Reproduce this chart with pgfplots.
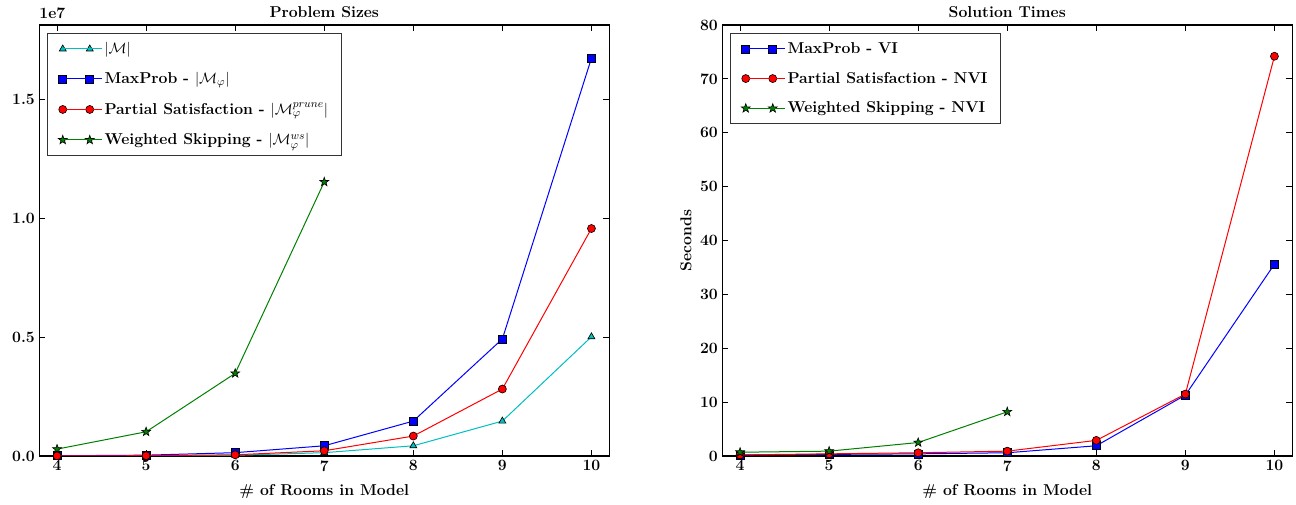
\documentclass[border=0pt]{standalone}
\usepackage{pgfplots}
\pgfplotsset{compat=1.18}
\usepackage{amsmath}
\definecolor{mplcyan}{rgb}{0,0.75,0.75}
\definecolor{mplgreen}{rgb}{0,0.5,0}
\newcommand\f{\fontsize{12.6}{15}\selectfont\bfseries}

\pgfdeclareplotmark{fstar}{%
  \pgfpathmoveto{\pgfpointpolar{90}{\pgfplotmarksize}}%
  \pgfpathlineto{\pgfpointpolar{126}{0.4\pgfplotmarksize}}%
  \pgfpathlineto{\pgfpointpolar{162}{\pgfplotmarksize}}%
  \pgfpathlineto{\pgfpointpolar{198}{0.4\pgfplotmarksize}}%
  \pgfpathlineto{\pgfpointpolar{234}{\pgfplotmarksize}}%
  \pgfpathlineto{\pgfpointpolar{270}{0.4\pgfplotmarksize}}%
  \pgfpathlineto{\pgfpointpolar{306}{\pgfplotmarksize}}%
  \pgfpathlineto{\pgfpointpolar{342}{0.4\pgfplotmarksize}}%
  \pgfpathlineto{\pgfpointpolar{18}{\pgfplotmarksize}}%
  \pgfpathlineto{\pgfpointpolar{54}{0.4\pgfplotmarksize}}%
  \pgfpathclose
  \pgfusepathqfillstroke
}

\pgfplotsset{
  mpl/.style={
    scale only axis,
    width=456pt, height=344.8pt,
    xmin=3.8, xmax=10.2, xtick={4,5,...,10},
    clip mode=individual,
    tick align=inside,
    major tick length=4.8pt,
    axis line style={line width=1pt},
    every tick/.style={black, line width=0.8pt},
    /pgf/number format/assume math mode=true,
    ticklabel style={font=\f},
    label style={font=\f},
    xlabel style={yshift=-4pt},
    title style={font=\f, yshift=-3.5pt},
    xlabel={\# of Rooms in Model},
    legend cell align=left,
    legend style={font=\f, at={(0.014,0.981)}, anchor=north west,
      draw=black!80, line width=0.8pt,
      row sep=9.5pt, inner xsep=8.5pt, inner ysep=5pt},
    legend image code/.code={\draw[##1] plot coordinates {(0pt,0pt) (21.6pt,0pt)};
      \path (0pt,0pt) -- (31pt,0pt);},
  },
  ser/.style={line width=0.8pt, mark size=3.2pt},
}

\begin{document}
\begin{tikzpicture}
\begin{axis}[mpl,
    title={Problem Sizes},
    ymin=0, ymax=18150000,
    scaled y ticks=false,
    ytick={0,5000000,10000000,15000000},
    yticklabels={0.0,0.5,1.0,1.5},
]
\addplot[ser, mplcyan, mark=triangle*, mark options={draw=black, line width=0.5pt, fill=mplcyan}] coordinates {
  (4,3000) (5,10000) (6,30000) (7,140000) (8,430000) (9,1470000) (10,5020000)
};
\addlegendentry{$|\mathcal{M}|$}
\addplot[ser, blue, mark=square*, mark options={draw=black, line width=0.5pt, fill=blue}] coordinates {
  (4,10000) (5,35000) (6,140000) (7,430000) (8,1470000) (9,4930000) (10,16750000)
};
\addlegendentry{MaxProb - $|\mathcal{M}_\varphi|$}
\addplot[ser, red, mark=*, mark options={draw=black, line width=0.5pt, fill=red}] coordinates {
  (4,5000) (5,12000) (6,50000) (7,220000) (8,840000) (9,2820000) (10,9580000)
};
\addlegendentry{Partial Satisfaction - $|\mathcal{M}_\varphi^{prune}|$}
\addplot[ser, mplgreen, mark=fstar, mark size=3.7pt, mark options={draw=black, line width=0.5pt, fill=mplgreen}] coordinates {
  (4,290000) (5,1020000) (6,3480000) (7,11540000)
};
\addlegendentry{Weighted Skipping - $|\mathcal{M}_\varphi^{ws}|$}
\node[font=\f, anchor=south west, inner sep=0pt] at (rel axis cs:0,1) [yshift=4.8pt] {1e7};
\end{axis}

\begin{axis}[mpl, at={(546.4pt,0pt)},
    title={Solution Times},
    ymin=0, ymax=80, ytick={0,10,...,80},
    ylabel={Seconds},
]
\addplot[ser, blue, mark=square*, mark options={draw=black, line width=0.5pt, fill=blue}] coordinates {
  (4,0.2) (5,0.3) (6,0.4) (7,0.6) (8,1.9) (9,11.3) (10,35.6)
};
\addlegendentry{MaxProb - VI}
\addplot[ser, red, mark=*, mark options={draw=black, line width=0.5pt, fill=red}] coordinates {
  (4,0.2) (5,0.4) (6,0.6) (7,0.9) (8,2.9) (9,11.5) (10,74.2)
};
\addlegendentry{Partial Satisfaction - NVI}
\addplot[ser, mplgreen, mark=fstar, mark size=3.7pt, mark options={draw=black, line width=0.5pt, fill=mplgreen}] coordinates {
  (4,0.7) (5,0.9) (6,2.5) (7,8.2)
};
\addlegendentry{Weighted Skipping - NVI}
\end{axis}
\pgfresetboundingbox
\path[use as bounding box] (-31.4pt,-39.2pt) rectangle (1005.4pt,364.8pt);
\end{tikzpicture}
\end{document}
